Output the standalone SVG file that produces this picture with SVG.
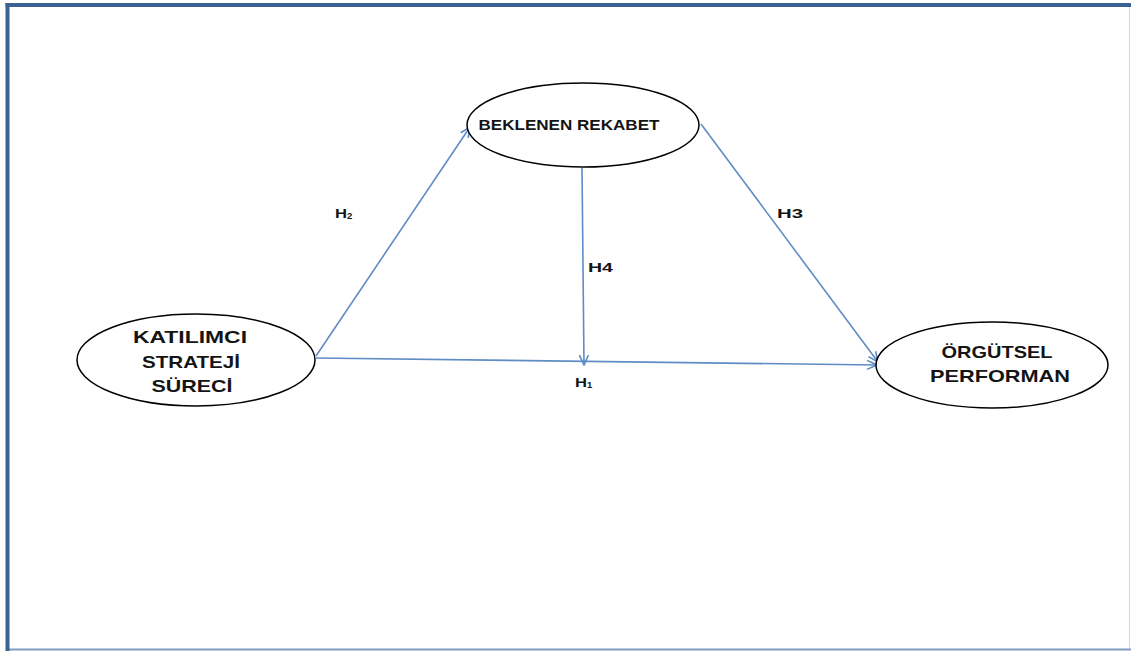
<svg xmlns="http://www.w3.org/2000/svg" width="1131" height="651" viewBox="0 0 1131 651">
  <style>
    .node ellipse { fill: #ffffff; stroke: #000000; stroke-width: 1.5; }
    .lbl { font-family: "Liberation Sans", Arial, sans-serif; font-weight: bold; fill: #141414; text-anchor: middle; }
    .big { font-size: 17px; }
    .small { font-size: 14px; }
    .hl { font-family: "Liberation Sans", Arial, sans-serif; font-weight: bold; font-size: 13px; fill: #141414; }
    .sub { font-size: 9.5px; }
    .edge { stroke: #5f8cc4; stroke-width: 1.6; fill: none; marker-end: url(#arrow); }
  </style>
  <defs>
    <marker id="arrow" viewBox="0 0 12 12" refX="11" refY="6" markerWidth="12" markerHeight="12" markerUnits="userSpaceOnUse" orient="auto">
      <path d="M1,1.5 L11,6 L1,10.5" fill="none" stroke="#5f8cc4" stroke-width="1.6"/>
    </marker>
  </defs>

  <!-- frame -->
  <rect x="0" y="0" width="1131" height="651" fill="#ffffff"/>
  <line x1="1129.5" y1="5" x2="1129.5" y2="649" stroke="#d6d6d6" stroke-width="1"/>
  <line x1="7" y1="649.5" x2="1131" y2="649.5" stroke="#7f9cc0" stroke-width="2"/>
  <line x1="7.5" y1="3" x2="7.5" y2="651" stroke="#3c6294" stroke-width="4"/>
  <line x1="5.5" y1="5" x2="1131" y2="5" stroke="#3c6294" stroke-width="4"/>

  <!-- connectors -->
  <g id="connectors">
    <line class="edge" x1="316" y1="356" x2="470" y2="127"/>
    <line class="edge" x1="701" y1="124" x2="878" y2="362"/>
    <line class="edge" x1="582" y1="168" x2="584" y2="365"/>
    <line class="edge" x1="316" y1="358" x2="877" y2="365"/>
    <text class="hl" x="335" y="218"><tspan textLength="12" lengthAdjust="spacingAndGlyphs">H</tspan><tspan class="sub" dy="1">2</tspan></text>
    <text class="hl" x="777" y="218" textLength="26" lengthAdjust="spacingAndGlyphs">H3</text>
    <text class="hl" x="588" y="272" textLength="25" lengthAdjust="spacingAndGlyphs">H4</text>
    <text class="hl" x="575" y="387"><tspan textLength="12" lengthAdjust="spacingAndGlyphs">H</tspan><tspan class="sub" dy="1">1</tspan></text>
  </g>

  <!-- nodes -->
  <g id="node-rekabet" class="node">
    <ellipse cx="583" cy="125" rx="116" ry="42"/>
    <text class="lbl small" x="569" y="130" textLength="181" lengthAdjust="spacingAndGlyphs">BEKLENEN  REKABET</text>
  </g>
  <g id="node-katilimci" class="node">
    <ellipse cx="196" cy="360" rx="119" ry="46"/>
    <text class="lbl big" x="190" y="343" textLength="114" lengthAdjust="spacingAndGlyphs">KATILIMCI</text>
    <text class="lbl big" x="191" y="368" textLength="98" lengthAdjust="spacingAndGlyphs">STRATEJİ</text>
    <text class="lbl big" x="192" y="392" textLength="81" lengthAdjust="spacingAndGlyphs">SÜRECİ</text>
  </g>
  <g id="node-orgutsel" class="node">
    <ellipse cx="992" cy="365" rx="116" ry="43"/>
    <text class="lbl big" x="997" y="358" textLength="111" lengthAdjust="spacingAndGlyphs">ÖRGÜTSEL</text>
    <text class="lbl big" x="1000" y="382" textLength="140" lengthAdjust="spacingAndGlyphs">PERFORMAN</text>
  </g>
</svg>
